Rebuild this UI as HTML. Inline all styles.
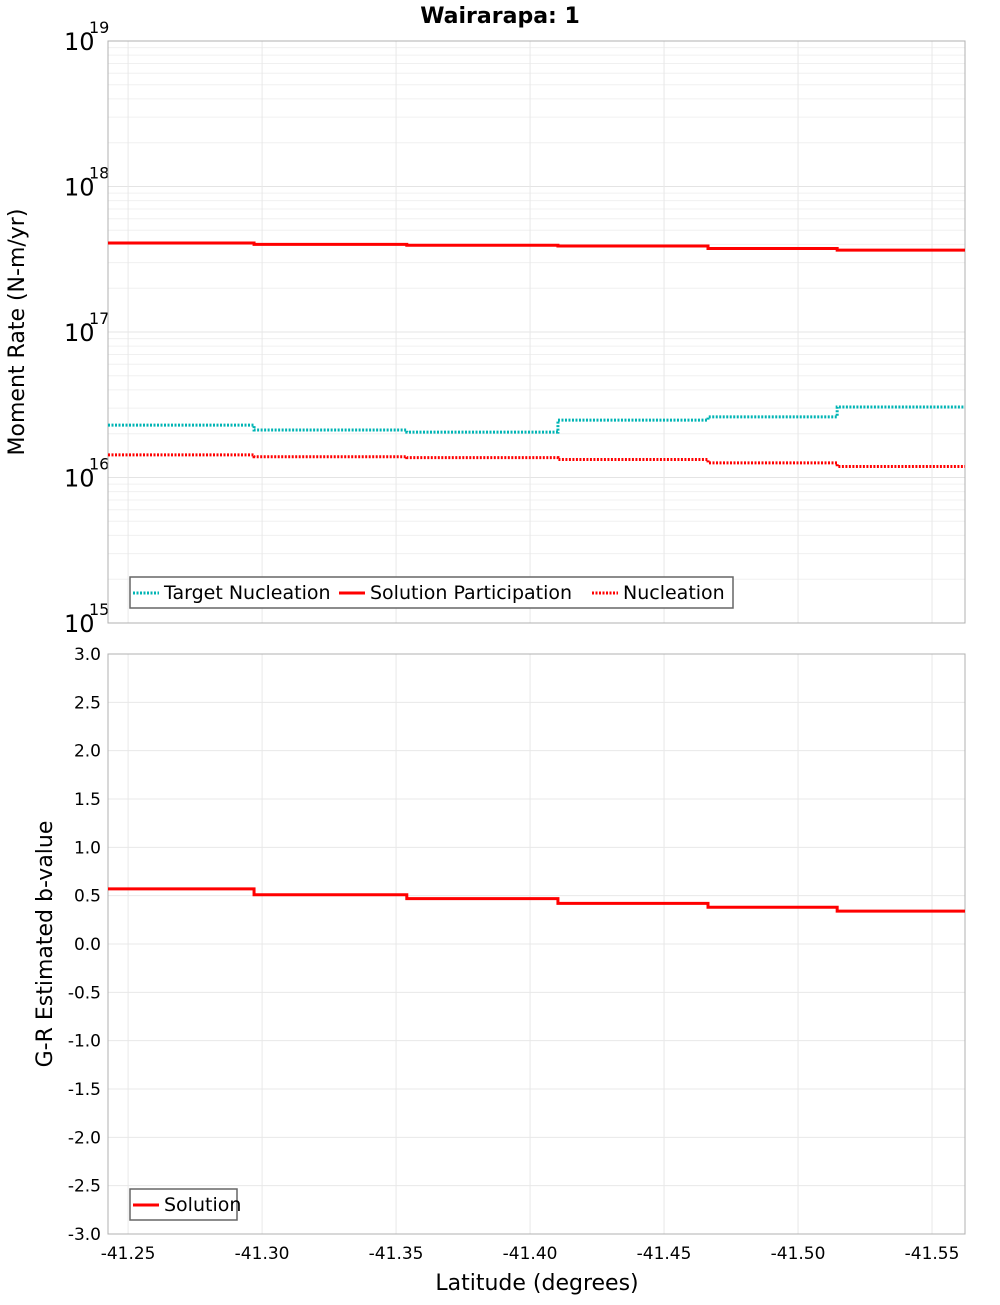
<!DOCTYPE html>
<html><head><meta charset="utf-8"><style>
body{margin:0;background:#fff;}
svg{font-family:"DejaVu Sans","Liberation Sans",sans-serif;}
</style></head><body>
<svg id="c" width="1000" height="1300" xmlns="http://www.w3.org/2000/svg">
<text x="500" y="23" text-anchor="middle" font-size="22" font-weight="bold">Wairarapa: 1</text>
<g id="topPanel"></g>
<g id="botPanel"></g>
<text x="24" y="332" transform="rotate(-90 24 332)" text-anchor="middle" font-size="22">Moment Rate (N-m/yr)</text>
<text x="52" y="944" transform="rotate(-90 52 944)" text-anchor="middle" font-size="22">G-R Estimated b-value</text>
<text x="537" y="1290" text-anchor="middle" font-size="22">Latitude (degrees)</text>
</svg>
<script>
const binEdges=[-41.2425,-41.297,-41.354,-41.4104,-41.4664,-41.5146,-41.5623];
const targetNucleation=[2.29e16,2.12e16,2.05e16,2.48e16,2.61e16,3.05e16];
const solutionParticipation=[4.09e17,4.0e17,3.95e17,3.9e17,3.75e17,3.65e17];
const nucleation=[1.43e16,1.39e16,1.37e16,1.33e16,1.26e16,1.19e16];
const bValues=[0.57,0.51,0.47,0.42,0.38,0.34];
const xTicks=[-41.25,-41.30,-41.35,-41.40,-41.45,-41.50,-41.55];
const logTicks=[15,16,17,18,19];
const bTicks=[3.0,2.5,2.0,1.5,1.0,0.5,0.0,-0.5,-1.0,-1.5,-2.0,-2.5,-3.0];

const NS="http://www.w3.org/2000/svg";
const L=108,R=965;
const X=v=>L+(binEdges[0]-v)/(binEdges[0]-binEdges[6])*(R-L);
const T0=41,T1=623, B0=654,B1=1234;
const YL=v=>T1-(Math.log10(v)-15)/4*(T1-T0);
const YB=v=>B0+(3-v)/6*(B1-B0);
function mk(p,tag,a){const e=document.createElementNS(NS,tag);for(const k in a)e.setAttribute(k,a[k]);p.appendChild(e);return e;}
const topG=document.getElementById('topPanel'),botG=document.getElementById('botPanel');

for(let d=15;d<19;d++)for(let m=1;m<10;m++){const y=YL(m*Math.pow(10,d));
 const g=mk(topG,'line',{x1:L,x2:R,y1:y,y2:y,stroke:m==1?'#e4e4e4':'#f0f0f0','stroke-width':1});
 
 }
xTicks.forEach(t=>{[[topG,T0,T1],[botG,B0,B1]].forEach(([p,a,b])=>{const g=mk(p,'line',{x1:X(t),x2:X(t),y1:a,y2:b,stroke:'#e8e8e8'});
 
 });});
bTicks.forEach(t=>{const y=YB(t);const g=mk(botG,'line',{x1:L,x2:R,y1:y,y2:y,stroke:'#e8e8e8'});
 
 
 const tx=mk(botG,'text',{x:101,y:y+6,'text-anchor':'end','font-size':17});tx.textContent=t.toFixed(1);
 
 });
logTicks.forEach(d=>{const y=YL(Math.pow(10,d));
 const t=mk(topG,'text',{x:64,y:y+9,'font-size':24});t.textContent='10';
 
 
 const s=mk(topG,'text',{x:89,y:y-8,'font-size':16});s.textContent=String(d);
 
 });
xTicks.forEach(t=>{const tx=mk(botG,'text',{x:X(t),y:1259,'text-anchor':'middle','font-size':17});tx.textContent=t.toFixed(2);
 
 });
[[topG,T0,T1],[botG,B0,B1]].forEach(([p,a,b])=>{const r=mk(p,'rect',{x:L,y:a,width:R-L,height:b-a,fill:'none',stroke:'#b0b0b0'});
 
 });

function steps(p,vals,Y,col,dash,name){let d='';vals.forEach((v,i)=>{const y=Y(v);d+=(i?'L':'M')+X(binEdges[i])+' '+y+'L'+X(binEdges[i+1])+' '+y;});
 const e=mk(p,'path',{d:d,fill:'none',stroke:col,'stroke-width':3});if(dash)e.setAttribute('stroke-dasharray','2 1.5');
 
 }
steps(topG,targetNucleation,YL,'#00b4b4',true,'target-nucleation-series');
steps(topG,nucleation,YL,'#ff0000',true,'nucleation-series');
steps(topG,solutionParticipation,YL,'#ff0000',false,'solution-participation-series');
steps(botG,bValues,YB,'#ff0000',false,'solution-b-value-series');

function legend(p,x,y,w,items,name){const g=mk(p,'g',{});
 
 
 mk(g,'rect',{x:x,y:y,width:w,height:31,fill:'#fff',stroke:'#666','stroke-width':1.5});
 items.forEach(([lx,col,dash,label])=>{const l=mk(g,'line',{x1:lx,x2:lx+26,y1:y+16,y2:y+16,stroke:col,'stroke-width':3});if(dash)l.setAttribute('stroke-dasharray','2 1.5');
 const t=mk(g,'text',{x:lx+31,y:y+22,'font-size':19});t.textContent=label;
 
 });}
legend(topG,130,577,603,[[133,'#00b4b4',true,'Target Nucleation'],[339,'#ff0000',false,'Solution Participation'],[592,'#ff0000',true,'Nucleation']],'top-legend');
legend(botG,130,1189,107,[[133,'#ff0000',false,'Solution']],'bottom-legend');
</script>
</body></html>
